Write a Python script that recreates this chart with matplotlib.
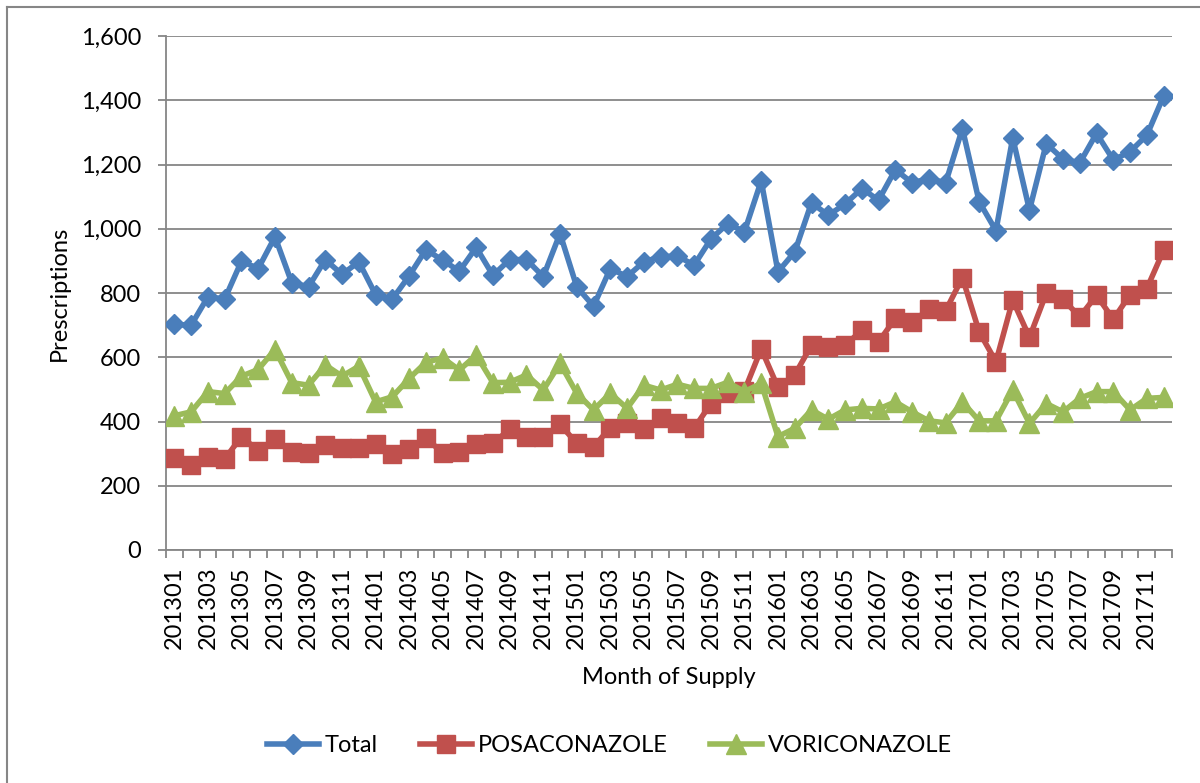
import numpy as np
import matplotlib
matplotlib.use("Agg")
import matplotlib.pyplot as plt
from matplotlib.ticker import FuncFormatter, FixedLocator
from matplotlib.lines import Line2D

# months 201301 .. 201712
months = [f"{y}{m:02d}" for y in range(2013, 2018) for m in range(1, 13)]

total = [702, 700, 788, 781, 899, 876, 975, 832, 819, 904,
         858, 897, 795, 781, 853, 935, 902, 868, 942, 855,
         904, 904, 851, 985, 819, 759, 876, 851, 897, 913,
         915, 887, 968, 1016, 991, 1149, 866, 928, 1081, 1042,
         1077, 1125, 1089, 1184, 1143, 1156, 1143, 1312, 1084, 994,
         1283, 1058, 1265, 1217, 1205, 1297, 1214, 1240, 1291, 1413]

posaconazole = [287, 264, 290, 283, 353, 309, 345, 306, 303, 327,
                316, 318, 330, 299, 314, 350, 301, 304, 330, 332,
                376, 353, 351, 391, 332, 321, 381, 396, 376, 410,
                396, 379, 456, 488, 496, 626, 506, 545, 638, 633,
                637, 684, 648, 721, 710, 749, 745, 848, 679, 586,
                778, 662, 799, 780, 726, 793, 718, 795, 814, 933]

voriconazole = [418, 430, 493, 487, 541, 562, 624, 521, 513, 576,
                541, 572, 461, 477, 534, 584, 598, 560, 607, 521,
                522, 545, 498, 581, 488, 436, 488, 441, 513, 498,
                516, 503, 503, 522, 493, 519, 353, 379, 436, 407,
                436, 441, 439, 461, 430, 402, 396, 461, 402, 402,
                498, 394, 456, 430, 472, 493, 493, 436, 472, 475]

series = [("Total", total, "#4A7EBB", "D", 10),
          ("POSACONAZOLE", posaconazole, "#C0504D", "s", 13),
          ("VORICONAZOLE", voriconazole, "#9BBB59", "^", 15)]

plt.rcParams['font.family'] = ['Lato', 'DejaVu Sans']
fs = 17
grid_col = "#868686"

fig = plt.figure(figsize=(12, 7.83), dpi=100)
ax = fig.add_axes([166 / 1200, 1 - 550 / 783, (1172 - 166) / 1200, (550 - 36) / 783])

x = np.arange(len(months))
handles = []
for name, vals, col, mk, ms in series:
    ax.plot(x, vals, color=col, linewidth=4, marker=mk, markersize=ms,
            markerfacecolor=col, markeredgecolor=col, zorder=3)
    handles.append(Line2D([0], [0], color=col, linewidth=4, marker=mk,
                          markersize=ms, markerfacecolor=col, markeredgecolor=col))

ax.set_xlim(-0.5, len(months) - 0.5)
ax.set_ylim(0, 1600)
ax.set_yticks(range(0, 1601, 200))
ax.yaxis.set_major_formatter(FuncFormatter(lambda v, p: f"{int(v):,}"))
ax.grid(axis="y", color=grid_col, linewidth=1.3, zorder=0)
ax.set_axisbelow(True)

ax.set_xticks(x[::2])
ax.set_xticklabels(months[::2], rotation=90, fontsize=fs)
ax.xaxis.set_minor_locator(FixedLocator(np.arange(-0.5, len(months), 1)))
ax.tick_params(axis="x", which="major", length=0, pad=12)
ax.tick_params(axis="x", which="minor", length=6, width=1.3, color=grid_col, direction="out")
ax.tick_params(axis="y", length=6, width=1.3, color=grid_col, pad=12, labelsize=fs)

for side in ["top", "right"]:
    ax.spines[side].set_visible(False)
for side in ["left", "bottom"]:
    ax.spines[side].set_color(grid_col)
    ax.spines[side].set_linewidth(1.3)

ax.set_ylabel("Prescriptions", fontsize=fs, labelpad=8)
ax.set_xlabel("Month of Supply", fontsize=fs, labelpad=13)

fig.legend(handles, [s[0] for s in series], loc="center", bbox_to_anchor=(0.508, 1 - 746 / 783),
           ncol=3, frameon=False, fontsize=fs, handlelength=2.2, columnspacing=1.8,
           handletextpad=0.25)

# chart area border (top and left edges visible)
fig.add_artist(Line2D([7 / 1200, 1.0], [1 - 7 / 783, 1 - 7 / 783], color=grid_col,
                      linewidth=1.5, transform=fig.transFigure))
fig.add_artist(Line2D([7 / 1200, 7 / 1200], [0, 1 - 7 / 783], color=grid_col,
                      linewidth=1.5, transform=fig.transFigure))

fig.savefig("out.png", dpi=100)
